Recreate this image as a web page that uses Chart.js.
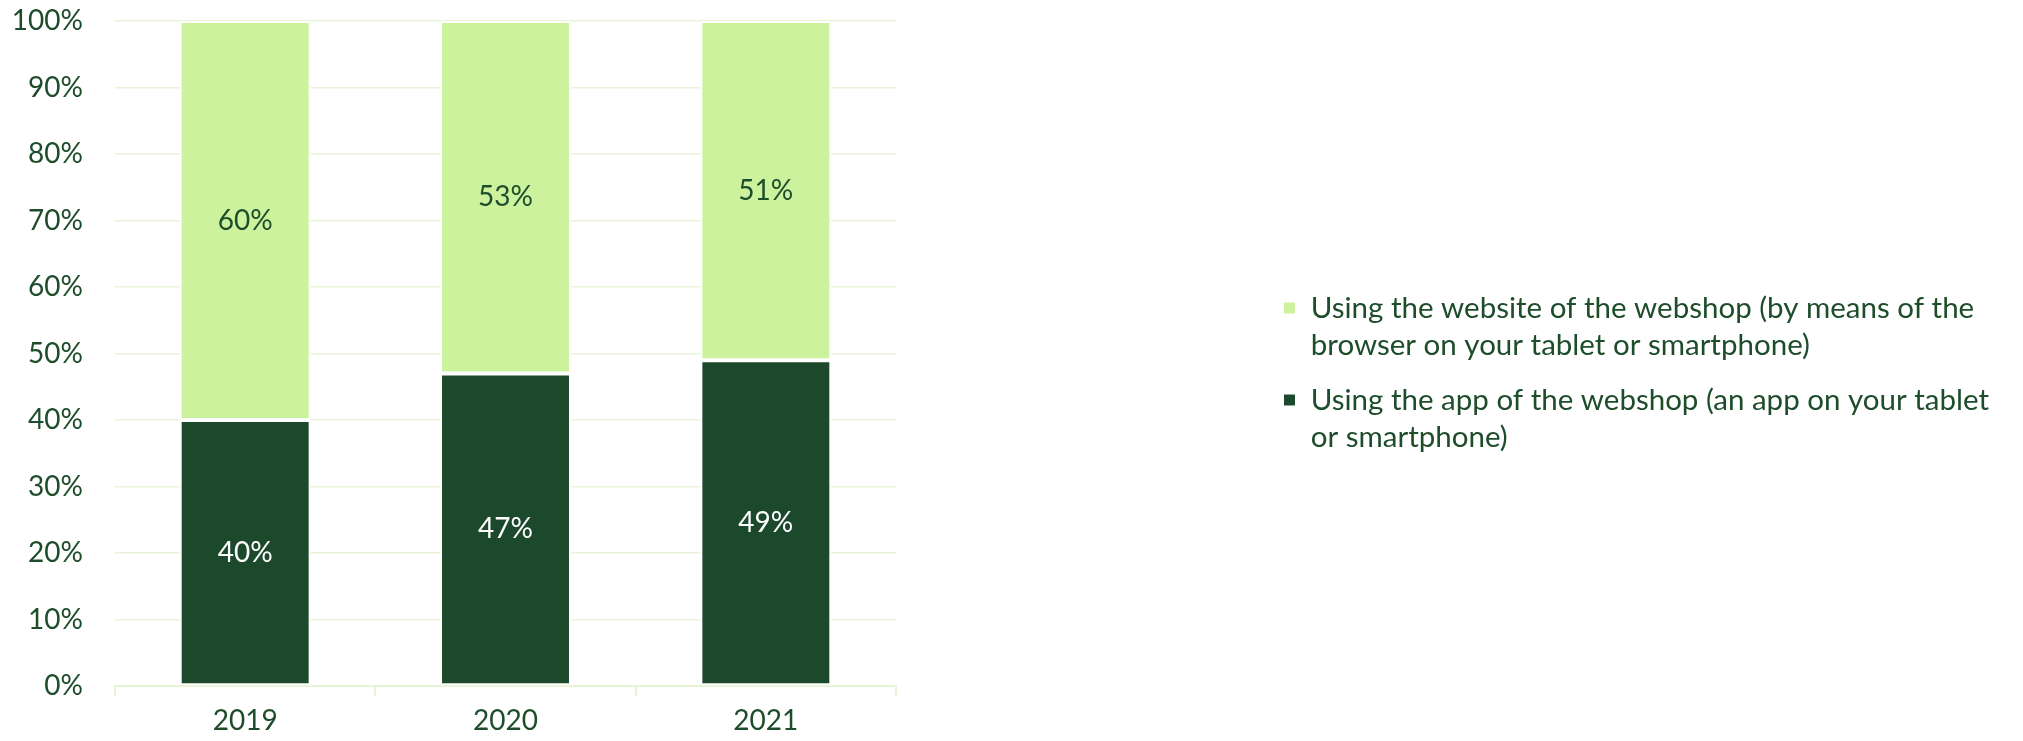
<!DOCTYPE html>
<html>
<head>
<meta charset="utf-8">
<title>Webshop access on tablet or smartphone</title>
<script src="https://cdn.jsdelivr.net/npm/chart.js@4/dist/chart.umd.min.js"></script>
<style>
  html, body { margin: 0; padding: 0; background: #ffffff; }
  #wrap { width: 2023px; height: 741px; position: relative; }
</style>
</head>
<body>
<div id="wrap"><canvas id="chart"></canvas></div>
<script>
// Survey years
const years = ['2019', '2020', '2021'];
// Share using the app of the webshop (%)
const appShare = [40, 47, 49];
// Share using the website through the browser (%)
const websiteShare = [60, 53, 51];
// Legend text, one entry per line
const appLabel = ['Using the app of the webshop (an app on your tablet', 'or smartphone)'];
const websiteLabel = ['Using the website of the webshop (by means of the', 'browser on your tablet or smartphone)'];
// Value axis ticks
const yTicks = [0, 10, 20, 30, 40, 50, 60, 70, 80, 90, 100];

const TEXT = '#1E4D2B';
const GRID = '#E8F4D8';
const DARK = '#1C482B';
const LIGHT = '#CCF29E';
const FONT = 'Lato, "Open Sans", sans-serif';

const PLOT_RIGHT = 896;
const LEGEND_X = 1283;
const LEGEND_FIRST_LINE_Y = 308;
const LEGEND_PAD = 18;
const LABEL_SIZE = 28;
const LEGEND_SIZE = 29.5;

// Right-hand legend sits well away from the plot
const legendPlacer = {
  id: 'legendPlacer',
  beforeLayout(chart) {
    const lg = chart.legend;
    if (lg && !lg._wrappedFit) {
      const fit = lg.fit;
      lg.fit = function () {
        fit.call(this);
        this.width = this.chart.width - PLOT_RIGHT;
      };
      lg._wrappedFit = true;
    }
  },
  afterLayout(chart) {
    const lg = chart.legend;
    lg.left = LEGEND_X - LEGEND_PAD;
    lg.width = lg.right - lg.left;
    lg.top = LEGEND_FIRST_LINE_Y - LEGEND_SIZE / 2 - LEGEND_PAD;
    lg.height = lg.bottom - lg.top;
  }
};

// Percent labels centred in each bar segment
const segmentLabels = {
  id: 'segmentLabels',
  afterDatasetsDraw(chart) {
    const ctx = chart.ctx;
    ctx.save();
    ctx.font = LABEL_SIZE + 'px ' + FONT;
    ctx.textAlign = 'center';
    ctx.textBaseline = 'middle';
    chart.data.datasets.forEach((ds, di) => {
      const meta = chart.getDatasetMeta(di);
      meta.data.forEach((bar, i) => {
        const p = bar.getProps(['x', 'y', 'base'], true);
        ctx.fillStyle = ds.valueColor;
        ctx.fillText(ds.data[i] + '%', p.x, (p.y + p.base) / 2);
      });
    });
    ctx.restore();
  }
};

new Chart(document.getElementById('chart'), {
  type: 'bar',
  data: {
    labels: years,
    datasets: [
      {
        label: appLabel,
        data: appShare,
        backgroundColor: DARK,
        borderColor: '#ffffff',
        borderWidth: 2,
        borderSkipped: false,
        valueColor: '#ffffff'
      },
      {
        label: websiteLabel,
        data: websiteShare,
        backgroundColor: LIGHT,
        borderColor: '#ffffff',
        borderWidth: 2,
        borderSkipped: false,
        valueColor: TEXT
      }
    ]
  },
  options: {
    responsive: true,
    maintainAspectRatio: false,
    animation: false,
    datasets: { bar: { categoryPercentage: 1, barPercentage: 0.503 } },
    layout: { padding: { top: 21, left: 0, right: 0, bottom: 0 } },
    plugins: {
      tooltip: { enabled: false },
      legend: {
        position: 'right',
        align: 'start',
        reverse: true,
        labels: {
          color: TEXT,
          font: { family: FONT, size: LEGEND_SIZE, lineHeight: 37 / LEGEND_SIZE },
          boxWidth: 13,
          boxHeight: 13,
          padding: LEGEND_PAD
        }
      }
    },
    scales: {
      x: {
        stacked: true,
        afterFit(scale) { scale.height = 55; },
        grid: {
          offset: true,
          drawOnChartArea: false,
          drawTicks: true,
          tickLength: 10,
          color: GRID,
          lineWidth: 2
        },
        border: { display: true, color: GRID, width: 2 },
        ticks: { color: TEXT, font: { family: FONT, size: LABEL_SIZE }, padding: 8 }
      },
      y: {
        stacked: true,
        min: yTicks[0],
        max: yTicks[yTicks.length - 1],
        afterFit(scale) { scale.width = 115; },
        afterBuildTicks(scale) { scale.ticks = yTicks.map(v => ({ value: v })); },
        grid: {
          color: GRID,
          lineWidth: 1.5,
          drawTicks: true,
          tickLength: 32,
          tickColor: 'rgba(0,0,0,0)'
        },
        border: { display: false },
        ticks: {
          color: TEXT,
          font: { family: FONT, size: LABEL_SIZE },
          padding: 0,
          callback: v => v + '%'
        }
      }
    }
  },
  plugins: [legendPlacer, segmentLabels]
});
</script>
</body>
</html>
